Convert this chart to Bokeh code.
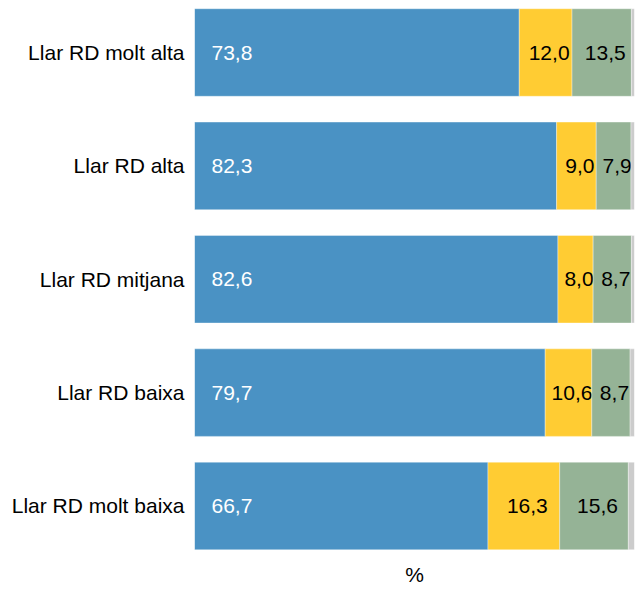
from bokeh.plotting import figure
from bokeh.models import ColumnDataSource, Range1d, FixedTicker
from bokeh.core.properties import value
from bokeh.embed import file_html
from bokeh.resources import INLINE

categories = ["Llar RD molt alta", "Llar RD alta", "Llar RD mitjana", "Llar RD baixa", "Llar RD molt baixa"]
blue_vals = [73.8, 82.3, 82.6, 79.7, 66.7]
yellow_vals = [12.0, 9.0, 8.0, 10.6, 16.3]
green_vals = [13.5, 7.9, 8.7, 8.7, 15.6]
grey_vals = [0.7, 0.8, 0.7, 1.0, 1.4]
axis_title = "%"

colors = ["#4A92C4", "#FFCC33", "#95B396", "#CCCCCC"]
FONT = "Liberation Sans"
FS = "21px"

n = len(categories)
ypos = [n - i for i in range(n)]

p = figure(width=636, height=587, output_backend="svg", toolbar_location=None,
           x_range=Range1d(0, 100), y_range=Range1d(0.2811, 5.4587),
           min_border_left=194, min_border_right=2, min_border_top=0, min_border_bottom=0)
p.outline_line_color = None
p.grid.visible = False
p.xaxis.visible = False

series = [blue_vals, yellow_vals, green_vals, grey_vals]
lefts = [0.0] * n
for k, vals in enumerate(series):
    rights = [l + v for l, v in zip(lefts, vals)]
    src = ColumnDataSource(dict(y=ypos, left=lefts, right=rights, v=vals,
                                mid=[(l + r) / 2 for l, r in zip(lefts, rights)],
                                lab=[f"{v:.1f}".replace(".", ",") for v in vals]))
    p.hbar(y="y", left="left", right="right", height=0.772, source=src,
           fill_color=colors[k], line_color="white", line_width=0.6, line_alpha=0.6)
    if k == 0:
        p.text(x="left", y="y", text="lab", source=src, x_offset=17,
               text_align="left", text_baseline="middle", text_color="white",
               text_font=value(FONT), text_font_size=FS)
    elif k in (1, 2):
        p.text(x="mid", y="y", text="lab", source=src, x_offset=3.5,
               text_align="center", text_baseline="middle", text_color="black",
               text_font=value(FONT), text_font_size=FS)
    lefts = rights

# axis title below the bars, centred on the plot area
p.text(x=[50], y=[0.392], text=[axis_title], text_align="center", text_baseline="middle",
       text_color="black", text_font=value(FONT), text_font_size=FS)

p.yaxis.ticker = FixedTicker(ticks=ypos)
p.yaxis.major_label_overrides = {y: c for y, c in zip(ypos, categories)}
p.yaxis.axis_line_color = None
p.yaxis.major_tick_line_color = None
p.yaxis.minor_tick_line_color = None
p.yaxis.major_tick_out = 0
p.yaxis.major_label_standoff = 10
p.yaxis.major_label_text_font = FONT
p.yaxis.major_label_text_font_size = FS
p.yaxis.major_label_text_color = "black"

open("out.html", "w").write(file_html(p, INLINE))
